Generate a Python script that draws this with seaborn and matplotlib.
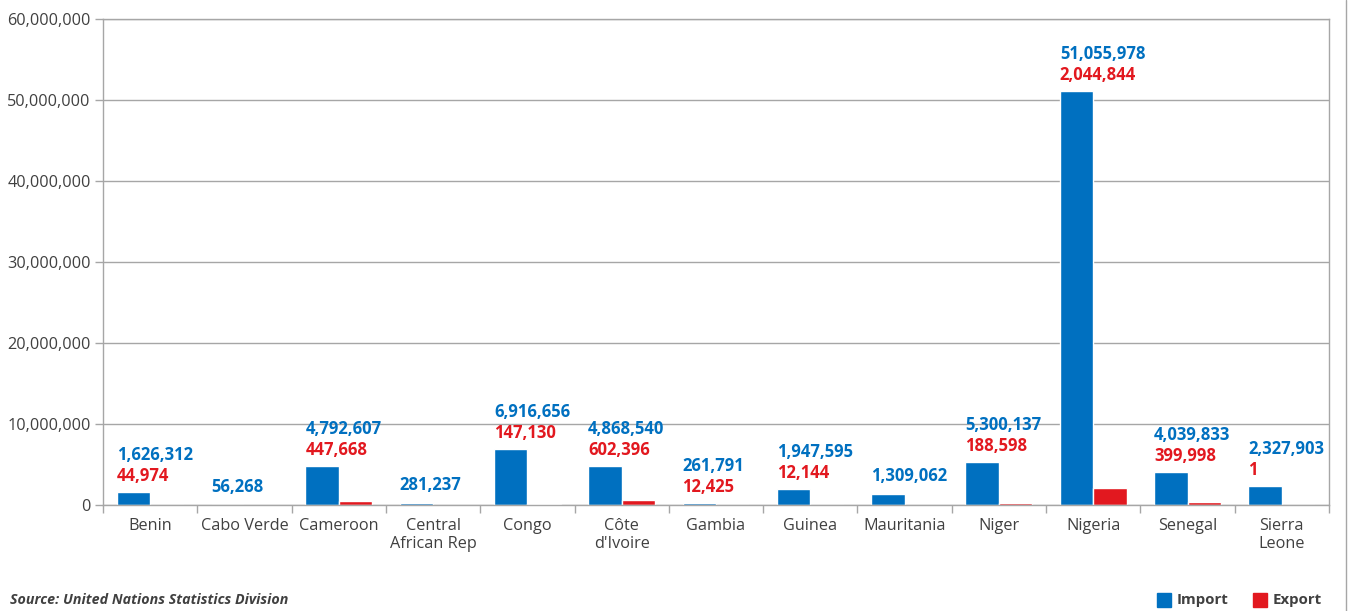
import numpy as np
import pandas as pd
import matplotlib
matplotlib.use("Agg")
import matplotlib.pyplot as plt
from matplotlib.lines import Line2D
from matplotlib.patches import Rectangle
from matplotlib.ticker import FuncFormatter, MultipleLocator, FixedLocator
import seaborn as sns

countries = ["Benin", "Cabo Verde", "Cameroon", "Central\nAfrican Rep", "Congo",
             "Côte\nd'Ivoire", "Gambia", "Guinea", "Mauritania", "Niger",
             "Nigeria", "Senegal", "Sierra\nLeone"]
imports = [1626312, 56268, 4792607, 281237, 6916656, 4868540, 261791,
           1947595, 1309062, 5300137, 51055978, 4039833, 2327903]
exports = [44974, None, 447668, None, 147130, 602396, 12425,
           12144, None, 188598, 2044844, 399998, 1]
series = ["Import", "Export"]

BLUE = "#0070C0"
RED = "#E2181F"
GREY = "#A6A6A6"
TXT = "#404040"

sns.set_theme(style="white")
plt.rcParams["font.family"] = ["Open Sans", "DejaVu Sans"]

df = pd.DataFrame({
    "country": countries * 2,
    "series": [series[0]] * len(countries) + [series[1]] * len(countries),
    "value": [float(v) for v in imports] + [np.nan if v is None else float(v) for v in exports],
})

fig = plt.figure(figsize=(13.54, 6.11), dpi=100)
ax = fig.add_axes([103 / 1354, 1 - 505 / 611, (1329 - 103) / 1354, (505 - 19) / 611])

sns.barplot(data=df, x="country", y="value", hue="series", order=countries,
            hue_order=series, palette=[BLUE, RED], width=0.71, dodge=True,
            saturation=1, errorbar=None, legend=False, ax=ax)

ax.set_xlim(-0.5, len(countries) - 0.5)
ax.set_ylim(0, 60_000_000)
ax.yaxis.set_major_locator(MultipleLocator(10_000_000))
ax.yaxis.set_major_formatter(FuncFormatter(lambda v, p: f"{int(v):,}"))
ax.grid(axis="y", color=GREY, linewidth=1)
ax.set_axisbelow(True)
ax.set_xlabel("")
ax.set_ylabel("")
for s in ax.spines.values():
    s.set_color(GREY)
    s.set_linewidth(1)

ax.tick_params(axis="y", which="major", length=6, width=1, color=GREY, pad=3,
               labelsize=11.7, labelcolor=TXT, left=True)
ax.xaxis.set_minor_locator(FixedLocator(np.arange(-0.5, len(countries), 1.0)))
ax.tick_params(axis="x", which="minor", length=6, width=1, color=GREY, bottom=True)
ax.tick_params(axis="x", which="major", length=0, pad=9, labelsize=11.7, labelcolor=TXT)
for lab in ax.get_xticklabels():
    lab.set_linespacing(1.25)
    lab.set_verticalalignment("top")

# value labels, left-aligned with the import bar
imp_bars = ax.containers[0]
for i, bar in enumerate(imp_bars.patches):
    x_left = bar.get_x()
    ex = exports[i]
    top = max(imports[i], ex if ex is not None else 0)
    if ex is not None:
        ax.annotate(f"{ex:,}", (x_left, top), xytext=(0, 16), textcoords="offset pixels",
                    ha="left", va="center", color=RED, fontsize=12, fontweight="bold")
        off = 37
    else:
        off = 18
    ax.annotate(f"{imports[i]:,}", (x_left, top), xytext=(0, off), textcoords="offset pixels",
                ha="left", va="center", color=BLUE, fontsize=12, fontweight="bold")

# source & legend
fig.text(10 / 1354, 1 - 600 / 611, "Source: United Nations Statistics Division",
         fontsize=10.3, fontweight="bold", fontstyle="italic", color=TXT, va="center", ha="left")
for x0, name, col in [(1157, "Import", BLUE), (1253, "Export", RED)]:
    fig.patches.append(Rectangle((x0 / 1354, 1 - 607 / 611), 14 / 1354, 14 / 611,
                                 transform=fig.transFigure, color=col))
    fig.text((x0 + 20) / 1354, 1 - 600 / 611, name, fontsize=10.8, fontweight="bold",
             color=TXT, va="center", ha="left")

fig.add_artist(Line2D([1346 / 1354, 1346 / 1354], [0, 1], transform=fig.transFigure,
                      color=GREY, linewidth=1))

fig.savefig("out.png", dpi=100, facecolor="white")
